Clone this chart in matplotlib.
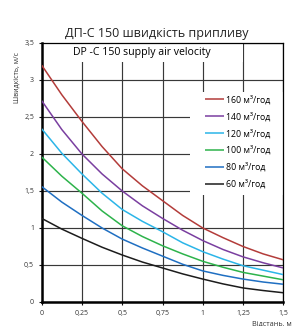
import matplotlib as mpl
mpl.use('Agg')
import matplotlib.pyplot as plt
from matplotlib.patches import Rectangle

plt.rcParams['font.family'] = ['Open Sans', 'DejaVu Sans']

# distance, m
dist = [0, 0.125, 0.25, 0.375, 0.5, 0.625, 0.75, 0.875, 1.0, 1.125, 1.25, 1.375, 1.5]

# air velocity, m/s, per flow rate
v160 = [3.20, 2.80, 2.44, 2.10, 1.80, 1.57, 1.37, 1.17, 1.00, 0.87, 0.75, 0.65, 0.57]
v140 = [2.72, 2.33, 2.00, 1.73, 1.50, 1.30, 1.13, 0.97, 0.83, 0.71, 0.61, 0.53, 0.46]
v120 = [2.34, 2.01, 1.73, 1.47, 1.25, 1.09, 0.95, 0.80, 0.68, 0.58, 0.49, 0.43, 0.37]
v100 = [1.96, 1.70, 1.47, 1.23, 1.03, 0.885, 0.76, 0.65, 0.55, 0.47, 0.40, 0.35, 0.30]
v80 = [1.56, 1.35, 1.17, 1.00, 0.85, 0.73, 0.62, 0.51, 0.42, 0.36, 0.31, 0.27, 0.24]
v60 = [1.13, 0.985, 0.86, 0.74, 0.635, 0.54, 0.46, 0.38, 0.31, 0.245, 0.19, 0.155, 0.125]

labels = ['160 м³/год', '140 м³/год', '120 м³/год', '100 м³/год', '80 м³/год', '60 м³/год']
series = [v160, v140, v120, v100, v80, v60]
colors = ['#b33c3a', '#7a3fa0', '#2bb5e8', '#2db34b', '#1f6fc2', '#1c1c1c']

xticks = [0, 0.25, 0.5, 0.75, 1.0, 1.25, 1.5]
xtick_labels = ['0', '0,25', '0,5', '0,75', '1', '1,25', '1,5']
yticks = [0, 0.5, 1.0, 1.5, 2.0, 2.5, 3.0, 3.5]
ytick_labels = ['0', '0,5', '1', '1,5', '2', '2,5', '3', '3,5']

W, H = 302, 326
fig = plt.figure(figsize=(W / 100, H / 100), dpi=100)
ax = fig.add_axes([41.7 / W, 24 / H, (283.3 - 41.7) / W, (302 - 43) / H])

ax.set_xlim(0, 1.5)
ax.set_ylim(0, 3.5)
ax.set_xticks(xticks)
ax.set_xticklabels(xtick_labels)
ax.set_yticks(yticks)
ax.set_yticklabels(ytick_labels)
ax.tick_params(labelsize=5, colors='#333333', length=2.5, width=0.8, pad=3)
ax.tick_params(axis='both', color='#111111')

ax.set_axisbelow(True)
ax.grid(True, color='#383838', linewidth=0.85)

for side in ['left', 'bottom']:
    ax.spines[side].set_linewidth(1.8)
for side in ['top', 'right']:
    ax.spines[side].set_linewidth(0.9)

# white box behind the inner title
ax.add_patch(Rectangle((0, 3.24), 1.25, 0.26, facecolor='white', edgecolor='none', zorder=1.5))
ax.text(0.62, 3.37, 'DP -C 150 supply air velocity', fontsize=7.6, ha='center', va='center', zorder=2)

# white box behind the legend
ax.add_patch(Rectangle((0.92, 1.45), 0.58, 1.39, facecolor='white', edgecolor='none', zorder=1.5))

for vals, lab, col in zip(series, labels, colors):
    ax.plot(dist, vals, color=col, linewidth=1.1, label=lab, zorder=3, solid_capstyle='butt')

ax.legend(loc='upper left', bbox_to_anchor=((205 - 41.7) / 241.6, (302 - 95) / 259),
          frameon=False, fontsize=6.3, handlelength=2.2, handletextpad=0.2,
          labelspacing=0.85, borderpad=0, borderaxespad=0)

fig.text(157 / W, 1 - 33 / H, 'ДП-С 150 швидкість припливу', fontsize=9,
         ha='center', va='center', color='#222222')
fig.text(17 / W, 1 - 78 / H, 'Швидкість, м/с', fontsize=5, rotation=90,
         ha='center', va='center', color='#333333')
fig.text(252 / W, 1 - 324 / H, 'Відстань, м', fontsize=5.2, ha='left', va='center',
         color='#333333')

fig.savefig('out.png', dpi=100)
